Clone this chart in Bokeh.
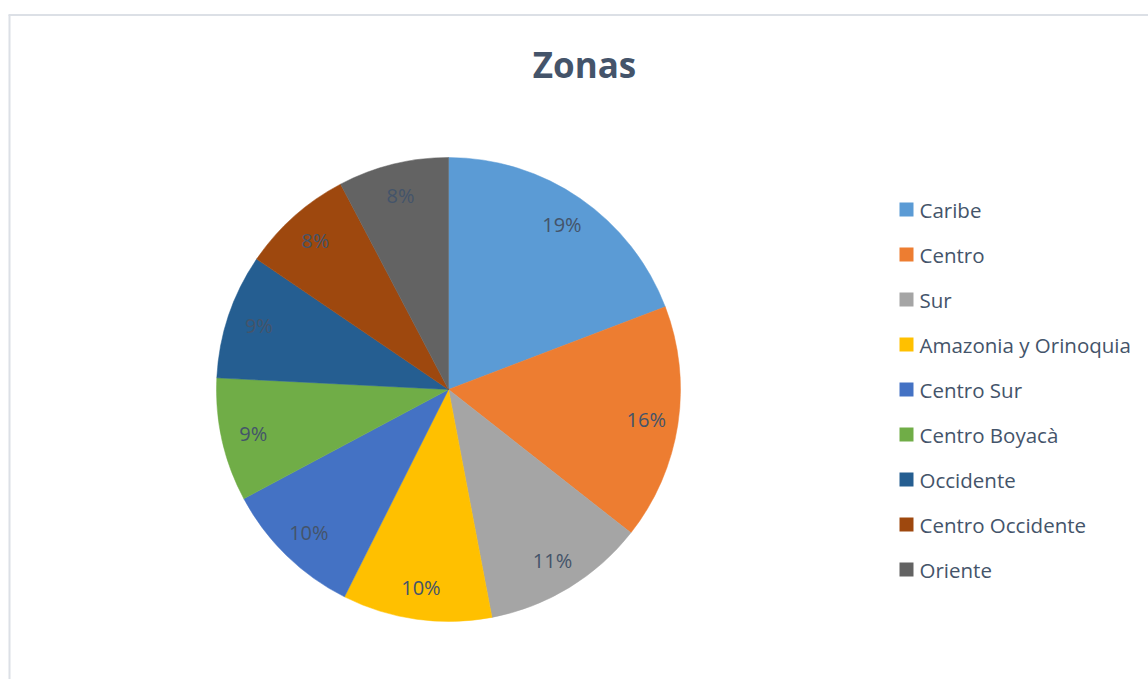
import math
from bokeh.plotting import figure
from bokeh.models import ColumnDataSource, Range1d
from bokeh.core.properties import value
from bokeh.embed import file_html
from bokeh.resources import INLINE

# ---- data ----
zonas = ["Caribe", "Centro", "Sur", "Amazonia y Orinoquia", "Centro Sur",
         "Centro Boyacà", "Occidente", "Centro Occidente", "Oriente"]
valores = [19.2, 16.4, 11.4, 10.4, 9.8, 8.6, 8.7, 7.8, 7.7]
colores = ["#5B9BD5", "#ED7D31", "#A5A5A5", "#FFC000", "#4472C4",
           "#70AD47", "#255E91", "#9E480E", "#636363"]
titulo = "Zonas"

# ---- layout ----
W, H = 1148, 679
cx, cy, R = 448, H - 389, 232
label_r = 200
FONT = "Open Sans"
TXT = "#44546A"

total = sum(valores)
starts, ends, lx, ly, pct = [], [], [], [], []
cum = 0.0
for v in valores:
    a0 = math.pi / 2 - 2 * math.pi * cum / total
    cum += v
    a1 = math.pi / 2 - 2 * math.pi * cum / total
    starts.append(a0)
    ends.append(a1)
    mid = (a0 + a1) / 2
    lx.append(cx + label_r * math.cos(mid))
    ly.append(cy + label_r * math.sin(mid))
    pct.append(f"{round(v / total * 100)}%")

src = ColumnDataSource(dict(zona=zonas, start=starts, end=ends, color=colores,
                            lx=lx, ly=ly, pct=pct))

p = figure(width=W, height=H, x_range=Range1d(0, W), y_range=Range1d(0, H),
           x_axis_type=None, y_axis_type=None, toolbar_location=None,
           output_backend="svg", min_border=0)
p.outline_line_color = None
p.grid.visible = False
p.background_fill_color = "white"

# chart border (top and left edges visible)
p.segment(x0=[8, 9], y0=[H - 14.5, 0], x1=[W, 9], y1=[H - 14.5, H - 14.5],
          line_color="#DCE0E6", line_width=2)

p.wedge(x=cx, y=cy, radius=R, start_angle="start", end_angle="end",
        direction="clock", fill_color="color", line_color="color",
        line_width=0.5, source=src)

p.text(x="lx", y="ly", text="pct", source=src, text_align="center",
       text_baseline="middle", text_font=value(FONT), text_font_size="20px",
       text_color=TXT)

# title
p.text(x=[584], y=[H - 64], text=[titulo], text_align="center",
       text_baseline="middle", text_font=value(FONT), text_font_size="35px",
       text_font_style="bold", text_color=TXT)

# legend
leg_x, leg_y0, leg_dy = 906, H - 209, 45
leg_src = ColumnDataSource(dict(
    x=[leg_x] * len(zonas),
    y=[leg_y0 - i * leg_dy for i in range(len(zonas))],
    tx=[leg_x + 13] * len(zonas),
    zona=zonas, color=colores))
p.rect(x="x", y="y", width=14, height=14, fill_color="color",
       line_color=None, source=leg_src)
p.text(x="tx", y="y", text="zona", source=leg_src, text_align="left",
       text_baseline="middle", text_font=value(FONT), text_font_size="20.5px",
       text_color=TXT)

open("out.html", "w").write(file_html(p, INLINE))
